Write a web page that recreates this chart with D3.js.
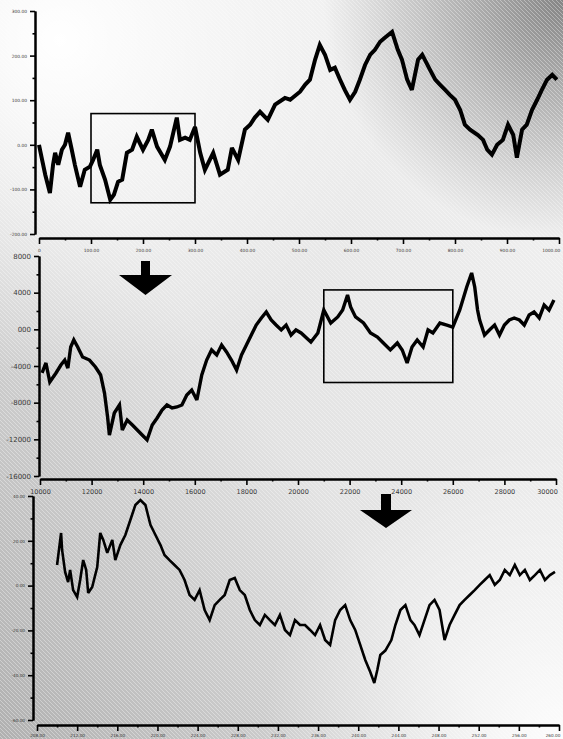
<!DOCTYPE html>
<html>
<head>
<meta charset="utf-8">
<script src="https://cdn.jsdelivr.net/npm/d3@7"></script>
<style>
  body { margin: 0; background: #fff; }
  svg { display: block; }
  .axis path, .axis line { stroke: #000; }
  .axis text { fill: #3a3a3a; font-family: "DejaVu Sans", sans-serif; }
</style>
</head>
<body>
<div id="chart"></div>
<script>
// ---- page size
const W = 563;
const H = 739;

// ---- DATA : [x, value]
const topSeries = [
  [0, 0], [6, -34], [12, -67], [21, -108], [27, -45], [31, -18], [37, -45], [44, -11],
  [50, 0], [56, 27], [63, -11], [69, -45], [79, -94], [88, -56], [98, -49], [104, -34],
  [112, -11], [117, -45], [127, -78], [137, -123], [144, -112], [152, -83], [160, -78],
  [169, -18], [179, -11], [188, 18], [200, -11], [210, 11], [217, 34], [227, -4],
  [242, -34], [252, -4], [265, 61], [271, 11], [281, 16], [290, 11], [300, 40],
  [310, -18], [319, -56], [335, -18], [348, -67], [363, -56], [371, -7], [383, -34],
  [396, 34], [406, 45], [415, 61], [425, 74], [440, 56], [454, 90], [473, 105],
  [483, 101], [502, 119], [512, 135], [521, 146], [531, 191], [540, 224], [550, 202],
  [560, 168], [569, 173], [579, 146], [588, 123], [598, 101], [608, 119], [617, 146],
  [627, 179], [637, 202], [646, 213], [656, 231], [665, 240], [679, 253], [690, 213],
  [698, 191], [708, 146], [717, 123], [729, 191], [737, 202], [752, 168], [762, 146],
  [771, 135], [781, 123], [790, 112], [800, 101], [810, 78], [819, 45], [829, 34],
  [844, 22], [854, 11], [862, -11], [871, -22], [881, 0], [892, 11], [902, 45],
  [912, 22], [919, -29], [929, 34], [938, 45], [948, 78], [958, 101], [967, 123],
  [977, 146], [987, 157], [996, 146]
];

const midSeries = [
  [100.8, -47.6], [102.3, -36.7], [103.8, -57.5], [106.2, -47.6], [108.1, -38.9],
  [109.6, -33.5], [110.8, -42.2], [111.9, -19.3], [113.1, -11.6], [114.6, -19.3],
  [116.5, -30.2], [119.2, -33.5], [121.5, -41.1], [123.5, -49.8], [125, -69.5],
  [126.2, -95.6], [126.9, -115.3], [128.8, -91.3], [130.8, -82.5], [131.9, -109.8],
  [133.8, -98.9], [135.8, -104.4], [137.7, -109.8], [139.6, -115.3], [141.5, -120.7],
  [143.5, -104.4], [145.4, -96.7], [147.3, -88], [149.2, -82.5], [151.2, -85.8],
  [153.1, -84.7], [155, -82.5], [156.9, -71.6], [158.8, -66.2], [160.8, -77.1],
  [162.7, -49.8], [164.6, -33.5], [166.5, -22.5], [168.5, -28], [170.4, -17.1],
  [172.3, -24.7], [174.2, -33.5], [176.2, -44.4], [178.1, -28], [180, -17.1],
  [181.9, -6.2], [183.8, 4.7], [185.8, 12.4], [187.7, 18.9], [189.6, 10.2],
  [191.5, 4.7], [193.5, -0.7], [195.4, 4.7], [197.3, -6.2], [199.2, -0.7],
  [201.2, -4], [205, -13.8], [207.7, -4], [210, 21.1], [212.7, 6.9], [215.4, 13.5],
  [217.3, 21.1], [219.2, 37.5], [220.4, 24.4], [222.3, 13.5], [225.4, 6.9],
  [228.1, -4], [230.8, -8.4], [233.1, -14.9], [235.8, -22.5], [238.5, -14.9],
  [240.4, -22.5], [242.3, -36.7], [244.2, -19.3], [246.2, -11.6], [248.5, -19.3],
  [250.4, -0.7], [252.3, -4], [255, 6.9], [257.7, 4.7], [260, 2.5], [262.7, 21.1],
  [265.4, 46.2], [267.3, 61.5], [268.5, 46.2], [269.6, 21.1], [270.4, 10.2],
  [272.3, -6.2], [274.2, -0.7], [276.2, 4.7], [278.1, -6.2], [280, 4.7],
  [281.9, 10.2], [283.8, 12.4], [285.8, 10.2], [287.7, 4.7], [289.6, 15.6],
  [291.5, 18.9], [293.5, 12.4], [295.4, 26.5], [297.3, 21.1], [299.2, 32]
];

const botSeries = [
  [210, 9.2], [210.1, 12.8], [210.4, 23.5], [210.5, 15.9], [210.8, 6.1], [211.1, 1.6],
  [211.3, 7], [211.6, -2], [212, -5.1], [212.3, 2.5], [212.6, 11.4], [212.9, 7],
  [213.1, -3.3], [213.5, -0.6], [214, 8.3], [214.3, 23.5], [214.6, 20.4], [215, 14.6],
  [215.5, 20.4], [215.8, 11.4], [216.3, 18.1], [216.8, 22.6], [217.3, 29.3],
  [217.8, 36], [218.3, 38.2], [218.8, 36], [219.3, 27.1], [219.8, 22.6], [220.3, 18.1],
  [220.7, 13.7], [221.2, 11.4], [221.7, 9.2], [222.2, 7], [222.7, 2.5], [223.2, -4.2],
  [223.7, -6.4], [224.2, -2], [224.7, -10.9], [225.2, -15.4], [225.7, -8.7],
  [226.2, -6.4], [226.7, -4.2], [227.2, 2.5], [227.7, 3.4], [228.2, -2], [228.7, -4.2],
  [229.2, -10.9], [229.7, -15.4], [230.2, -17.6], [230.7, -13.1], [231.2, -15.4],
  [231.7, -17.6], [232.2, -13.1], [232.7, -19.8], [233.2, -22.1], [233.7, -15.4],
  [234.2, -17.6], [234.7, -17.6], [235.2, -19.8], [235.7, -22.1], [236.2, -17.6],
  [236.7, -24.3], [237.2, -26.5], [237.7, -15.4], [238.2, -10.9], [238.7, -8.7],
  [239.2, -15.4], [239.7, -19.8], [240.2, -26.5], [240.7, -33.2], [241.2, -38.6],
  [241.6, -43.5], [241.9, -37.7], [242.2, -31], [242.7, -29], [243.3, -24.3],
  [243.7, -17.6], [244.2, -10.9], [244.7, -8.7], [245.2, -15.4], [245.6, -17.6],
  [246.1, -22.1], [246.6, -15.4], [247.1, -8.7], [247.6, -6.4], [248.1, -10.9],
  [248.6, -24.3], [249.1, -17.6], [249.6, -13.1], [250.1, -8.7], [250.6, -6.4],
  [251.1, -4.2], [251.6, -2], [252.1, 0.3], [252.6, 2.5], [253.1, 4.7], [253.6, 0.3],
  [254.1, 2.5], [254.6, 7], [255.1, 4.7], [255.6, 9.2], [256.1, 4.7], [256.6, 7],
  [257.1, 2.5], [257.6, 4.7], [258.1, 7], [258.6, 2.5], [259.1, 4.7], [259.6, 6.1]
];

// ---- TICKS
const topXTicks = [0, 100, 200, 300, 400, 500, 600, 700, 800, 900, 1000];
const topXLabels = ["0", "100.00", "200.00", "300.00", "400.00", "500.00", "600.00", "700.00", "800.00", "900.00", "1000.00"];
const topYTicks = [300, 200, 100, 0, -100, -200];
const topYLabels = ["300.00", "200.00", "100.00", "0.00", "-100.00", "-200.00"];

const midXTicks = [100, 120, 140, 160, 180, 200, 220, 240, 260, 280, 300];
const midXLabels = ["10000", "12000", "14000", "16000", "18000", "20000", "22000", "24000", "26000", "28000", "30000"];
const midYTicks = [80, 40, 0, -40, -80, -120, -160];
const midYLabels = ["8000", "4000", "000", "-4000", "-8000", "-12000", "-16000"];

const botXTicks = [208, 212, 216, 220, 224, 228, 232, 236, 240, 244, 248, 252, 256, 260];
const botXLabels = ["208.00", "212.00", "216.00", "220.00", "224.00", "228.00", "232.00", "236.00", "240.00", "244.00", "248.00", "252.00", "256.00", "260.00"];
const botYTicks = [40, 20, 0, -20, -40, -60];
const botYLabels = ["40.00", "20.00", "0.00", "-20.00", "-40.00", "-60.00"];

// zoom boxes (data units)
const topBox = { x: [100, 300], y: [-130, 70] };
const midBox = { x: [210, 260], y: [-58, 43] };

// ---- PANEL LAYOUT
const panels = [
  { series: topSeries, xt: topXTicks, xl: topXLabels, yt: topYTicks, yl: topYLabels,
    x0: 39, x1: 559, yTop: 11, yBot: 234, axX: 35, axY: 238, pad: 5,
    fx: 4.4, fy: 4.4, lw: 4, box: topBox },
  { series: midSeries, xt: midXTicks, xl: midXLabels, yt: midYTicks, yl: midYLabels,
    x0: 40, x1: 556, yTop: 256, yBot: 476, axX: 39, axY: 479, pad: 4,
    fx: 6.5, fy: 7, lw: 3.4, box: midBox },
  { series: botSeries, xt: botXTicks, xl: botXLabels, yt: botYTicks, yl: botYLabels,
    x0: 37, x1: 559, yTop: 496, yBot: 720, axX: 33, axY: 725, pad: 3,
    fx: 4.2, fy: 4.2, lw: 2.6, box: null }
];

const svg = d3.select("#chart").append("svg")
  .attr("width", W).attr("height", H);

// ---- BACKGROUND
const defs = svg.append("defs");
const base = defs.append("linearGradient").attr("id", "bgBase")
  .attr("x1", 0).attr("y1", 1).attr("x2", 1).attr("y2", 0);
base.append("stop").attr("offset", 0).attr("stop-color", "#b0b0b0");
base.append("stop").attr("offset", 0.45).attr("stop-color", "#e2e2e2");
base.append("stop").attr("offset", 1).attr("stop-color", "#f4f4f4");

const tr = defs.append("radialGradient").attr("id", "bgTR")
  .attr("gradientUnits", "userSpaceOnUse")
  .attr("cx", W).attr("cy", 0).attr("r", 240);
tr.append("stop").attr("offset", 0).attr("stop-color", "#858585").attr("stop-opacity", 1);
tr.append("stop").attr("offset", 1).attr("stop-color", "#858585").attr("stop-opacity", 0);

const tl = defs.append("radialGradient").attr("id", "bgTL")
  .attr("gradientUnits", "userSpaceOnUse")
  .attr("cx", 60).attr("cy", 40).attr("r", 340);
tl.append("stop").attr("offset", 0).attr("stop-color", "#fff").attr("stop-opacity", 1);
tl.append("stop").attr("offset", 1).attr("stop-color", "#fff").attr("stop-opacity", 0);

const br = defs.append("radialGradient").attr("id", "bgBR")
  .attr("gradientUnits", "userSpaceOnUse")
  .attr("cx", W).attr("cy", H).attr("r", 300);
br.append("stop").attr("offset", 0).attr("stop-color", "#fff").attr("stop-opacity", 0.9);
br.append("stop").attr("offset", 1).attr("stop-color", "#fff").attr("stop-opacity", 0);

const hatch = defs.append("pattern").attr("id", "hatch")
  .attr("patternUnits", "userSpaceOnUse")
  .attr("width", 4).attr("height", 4);
hatch.append("path").attr("d", "M-1,-1 L5,5")
  .attr("stroke", "#fff").attr("stroke-width", 0.7).attr("opacity", 0.5);

svg.append("rect").attr("width", W).attr("height", H).attr("fill", "url(#bgBase)");
svg.append("rect").attr("width", W).attr("height", H).attr("fill", "url(#bgTL)");
svg.append("rect").attr("width", W).attr("height", H).attr("fill", "url(#bgBR)");
svg.append("rect").attr("width", W).attr("height", H).attr("fill", "url(#bgTR)");
svg.append("rect").attr("width", W).attr("height", H).attr("fill", "url(#hatch)");

// ---- DRAW PANELS
panels.forEach((p) => {
  const xScale = d3.scaleLinear()
    .domain([p.xt[0], p.xt[p.xt.length - 1]])
    .range([p.x0, p.x1]);
  const yScale = d3.scaleLinear()
    .domain([p.yt[p.yt.length - 1], p.yt[0]])
    .range([p.yBot, p.yTop]);

  // minor ticks halfway between majors
  const xMinor = p.xt.slice(1).map((d, i) => (d + p.xt[i]) / 2);
  const yMinor = p.yt.slice(1).map((d, i) => (d + p.yt[i]) / 2);

  // Y AXIS
  const gy = svg.append("g").attr("class", "axis")
    .attr("transform", `translate(${p.axX},0)`);
  gy.append("g").call(d3.axisLeft(yScale).tickValues(yMinor).tickSize(2.5)
    .tickSizeOuter(0).tickFormat(""));
  gy.append("g").call(d3.axisLeft(yScale).tickValues(p.yt).tickSize(5)
    .tickSizeOuter(0).tickPadding(3).tickFormat((d, i) => p.yl[i]));
  gy.selectAll("path").attr("stroke-width", 2);
  gy.selectAll("line").attr("stroke-width", 1.6);
  gy.selectAll("text").style("font-size", p.fy + "px");

  // X AXIS
  const gx = svg.append("g").attr("class", "axis")
    .attr("transform", `translate(0,${p.axY})`);
  gx.append("g").call(d3.axisBottom(xScale).tickValues(xMinor).tickSize(2.5)
    .tickSizeOuter(0).tickFormat(""));
  gx.append("g").call(d3.axisBottom(xScale).tickValues(p.xt).tickSize(6)
    .tickSizeOuter(0).tickPadding(p.pad).tickFormat((d, i) => p.xl[i]));
  gx.selectAll("path").attr("stroke-width", 2);
  gx.selectAll("line").attr("stroke-width", 1.6);
  gx.selectAll("text").style("font-size", p.fx + "px");
  // keep the last label inside the page
  gx.selectAll(".tick:last-of-type text").attr("text-anchor", "end").attr("dx", "0.2em");

  // LINE
  const line = d3.line()
    .x((d) => xScale(d[0]))
    .y((d) => yScale(d[1]));
  svg.append("path")
    .datum(p.series)
    .attr("d", line)
    .attr("fill", "none")
    .attr("stroke", "#000")
    .attr("stroke-width", p.lw)
    .attr("stroke-linejoin", "miter")
    .attr("stroke-miterlimit", 3);

  // ZOOM BOX
  if (p.box) {
    svg.append("rect")
      .attr("x", xScale(p.box.x[0]))
      .attr("y", yScale(p.box.y[1]))
      .attr("width", xScale(p.box.x[1]) - xScale(p.box.x[0]))
      .attr("height", yScale(p.box.y[0]) - yScale(p.box.y[1]))
      .attr("fill", "none")
      .attr("stroke", "#000")
      .attr("stroke-width", 1.6);
  }
});

// ---- ARROWS (pointing to the next panel)
const arrows = [
  { cx: 145.5, top: 261, neck: 275, tip: 295, half: 26.5, shaft: 4.5 },
  { cx: 386, top: 494, neck: 510, tip: 528, half: 26, shaft: 5 }
];
arrows.forEach((a) => {
  svg.append("path")
    .attr("d", `M${a.cx - a.shaft},${a.top} L${a.cx + a.shaft},${a.top} L${a.cx + a.shaft},${a.neck}
      L${a.cx + a.half},${a.neck} L${a.cx},${a.tip} L${a.cx - a.half},${a.neck}
      L${a.cx - a.shaft},${a.neck} Z`)
    .attr("fill", "#000");
});
</script>
</body>
</html>
